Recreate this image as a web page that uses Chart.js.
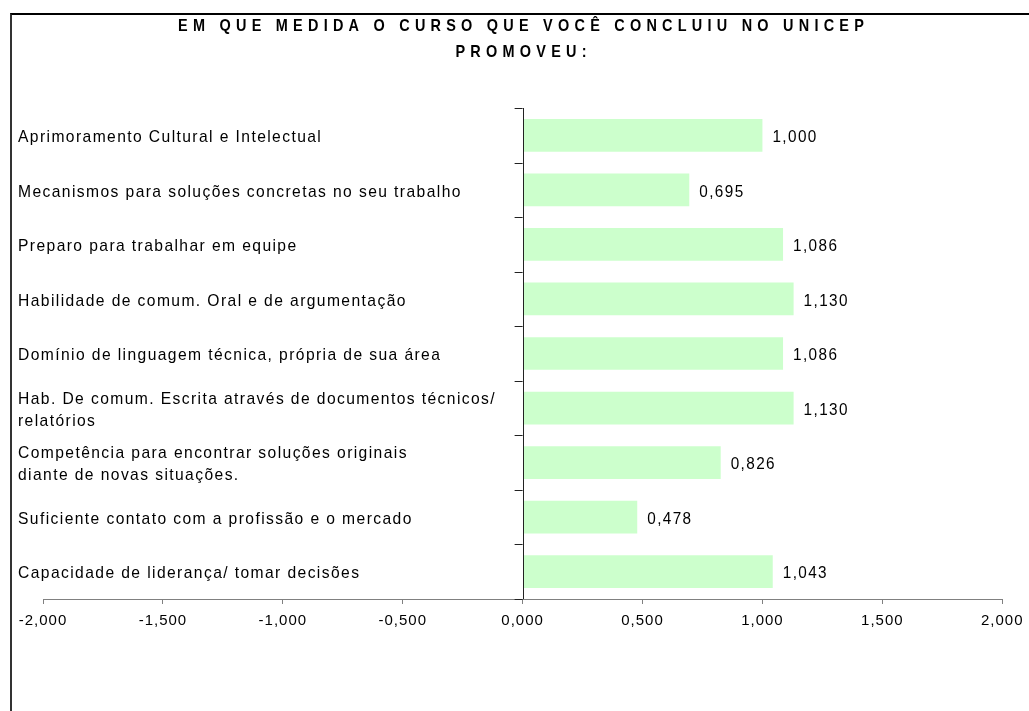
<!DOCTYPE html>
<html>
<head>
<meta charset="utf-8">
<script src="https://cdn.jsdelivr.net/npm/chart.js@4/dist/chart.umd.min.js"></script>
<style>
  html, body { margin: 0; padding: 0; background: #fff; }
  #wrap { position: relative; width: 1029px; height: 711px; overflow: hidden; }
  #frame { position: absolute; left: 10px; top: 13px; width: 1100px; height: 800px;
           border-left: 2px solid #333; border-top: 2px solid #000; pointer-events: none; }
</style>
</head>
<body>
<div id="wrap">
  <canvas id="chart" width="1029" height="711"></canvas>
  <div id="frame"></div>
</div>
<script>
// --- data ---
const titleLines = ['EM QUE MEDIDA O CURSO QUE VOCÊ CONCLUIU NO UNICEP', 'PROMOVEU:'];
const categories = [
    'Aprimoramento Cultural e Intelectual',
    'Mecanismos para soluções concretas no seu trabalho',
    'Preparo para trabalhar em equipe',
    'Habilidade de comum. Oral e de argumentação',
    'Domínio de linguagem técnica, própria de sua área',
    ['Hab. De comum. Escrita através de documentos técnicos/', 'relatórios'],
    ['Competência para encontrar soluções originais', 'diante de novas situações.'],
    'Suficiente contato com a profissão e o mercado',
    'Capacidade de liderança/ tomar decisões'
];
const scores = [1.000, 0.695, 1.086, 1.130, 1.086, 1.130, 0.826, 0.478, 1.043];
const xMin = -2, xMax = 2, xStep = 0.5;

const fmt = v => v.toFixed(3).replace('.', ',');
const FONT = '"Liberation Sans", Arial, sans-serif';

// narrow text: horizontally squeezed font plus some tracking (screen px)
function drawNarrow(ctx, text, x, y, font, sx, spacing, align) {
    ctx.save();
    ctx.font = font;
    ctx.textAlign = align || 'left';
    ctx.textBaseline = 'middle';
    ctx.translate(x, y);
    ctx.scale(sx, 1);
    ctx.letterSpacing = (spacing / sx) + 'px';
    ctx.fillText(text, 0, 0);
    ctx.restore();
}

// labels, zero axis, value labels and title drawn over the chart
const decorPlugin = {
    id: 'decor',
    beforeDraw(chart) {
        chart.ctx.letterSpacing = '1px';
    },
    afterDraw(chart) {
        const ctx = chart.ctx;
        const xs = chart.scales.x, ys = chart.scales.y;
        const area = chart.chartArea;
        const x0 = xs.getPixelForValue(0);
        const step = ys.getPixelForValue(1) - ys.getPixelForValue(0);
        ctx.letterSpacing = '0px';

        ctx.save();
        // zero line with ticks between categories
        ctx.strokeStyle = '#222';
        ctx.lineWidth = 1;
        ctx.beginPath();
        ctx.moveTo(Math.round(x0) + 0.5, area.top);
        ctx.lineTo(Math.round(x0) + 0.5, area.bottom);
        for (let i = 0; i <= categories.length; i++) {
            const yy = Math.round(ys.getPixelForValue(0) - step / 2 + i * step) + 0.5;
            ctx.moveTo(x0 - 8, yy);
            ctx.lineTo(x0, yy);
        }
        ctx.stroke();

        ctx.fillStyle = '#000';
        const labelFont = '17px ' + FONT;

        // category labels
        categories.forEach((c, i) => {
            const lines = Array.isArray(c) ? c : [c];
            const cy = ys.getPixelForValue(i) + 2;
            lines.forEach((t, j) => {
                drawNarrow(ctx, t, 18, cy + (j - (lines.length - 1) / 2) * 22, labelFont, 0.92, 1.4);
            });
        });

        // value labels
        const meta = chart.getDatasetMeta(0);
        meta.data.forEach((bar, i) => {
            drawNarrow(ctx, fmt(scores[i]), bar.x + 10, bar.y + 2, labelFont, 0.9, 1.4);
        });

        // title, tracked out to the width of the original heading
        const titleFont = 'bold 17px ' + FONT;
        ctx.font = titleFont;
        const w0 = ctx.measureText(titleLines[0]).width * 0.85;
        const track = (691 - w0) / titleLines[0].length;
        titleLines.forEach((t, j) => {
            drawNarrow(ctx, t, 521 + track / 2, 26 + j * 26, titleFont, 0.85, track, 'center');
        });
        ctx.restore();
    }
};

new Chart(document.getElementById('chart'), {
    type: 'bar',
    data: {
        labels: categories,
        datasets: [{
            data: scores,
            backgroundColor: '#CCFFCC',
            borderWidth: 0,
            barPercentage: 0.6,
            categoryPercentage: 1
        }]
    },
    options: {
        indexAxis: 'y',
        responsive: false,
        animation: false,
        layout: { padding: { left: 43, right: 26, top: 108, bottom: 73 } },
        plugins: { legend: { display: false }, tooltip: { enabled: false }, title: { display: false } },
        scales: {
            x: {
                min: xMin, max: xMax,
                ticks: {
                    stepSize: xStep,
                    color: '#000',
                    font: { family: FONT, size: 15 },
                    padding: 8,
                    maxRotation: 0,
                    callback: v => fmt(v)
                },
                grid: { drawOnChartArea: false, color: '#808080', tickLength: 5 },
                border: { color: '#808080' }
            },
            y: { display: false }
        }
    },
    plugins: [decorPlugin]
});
</script>
</body>
</html>
